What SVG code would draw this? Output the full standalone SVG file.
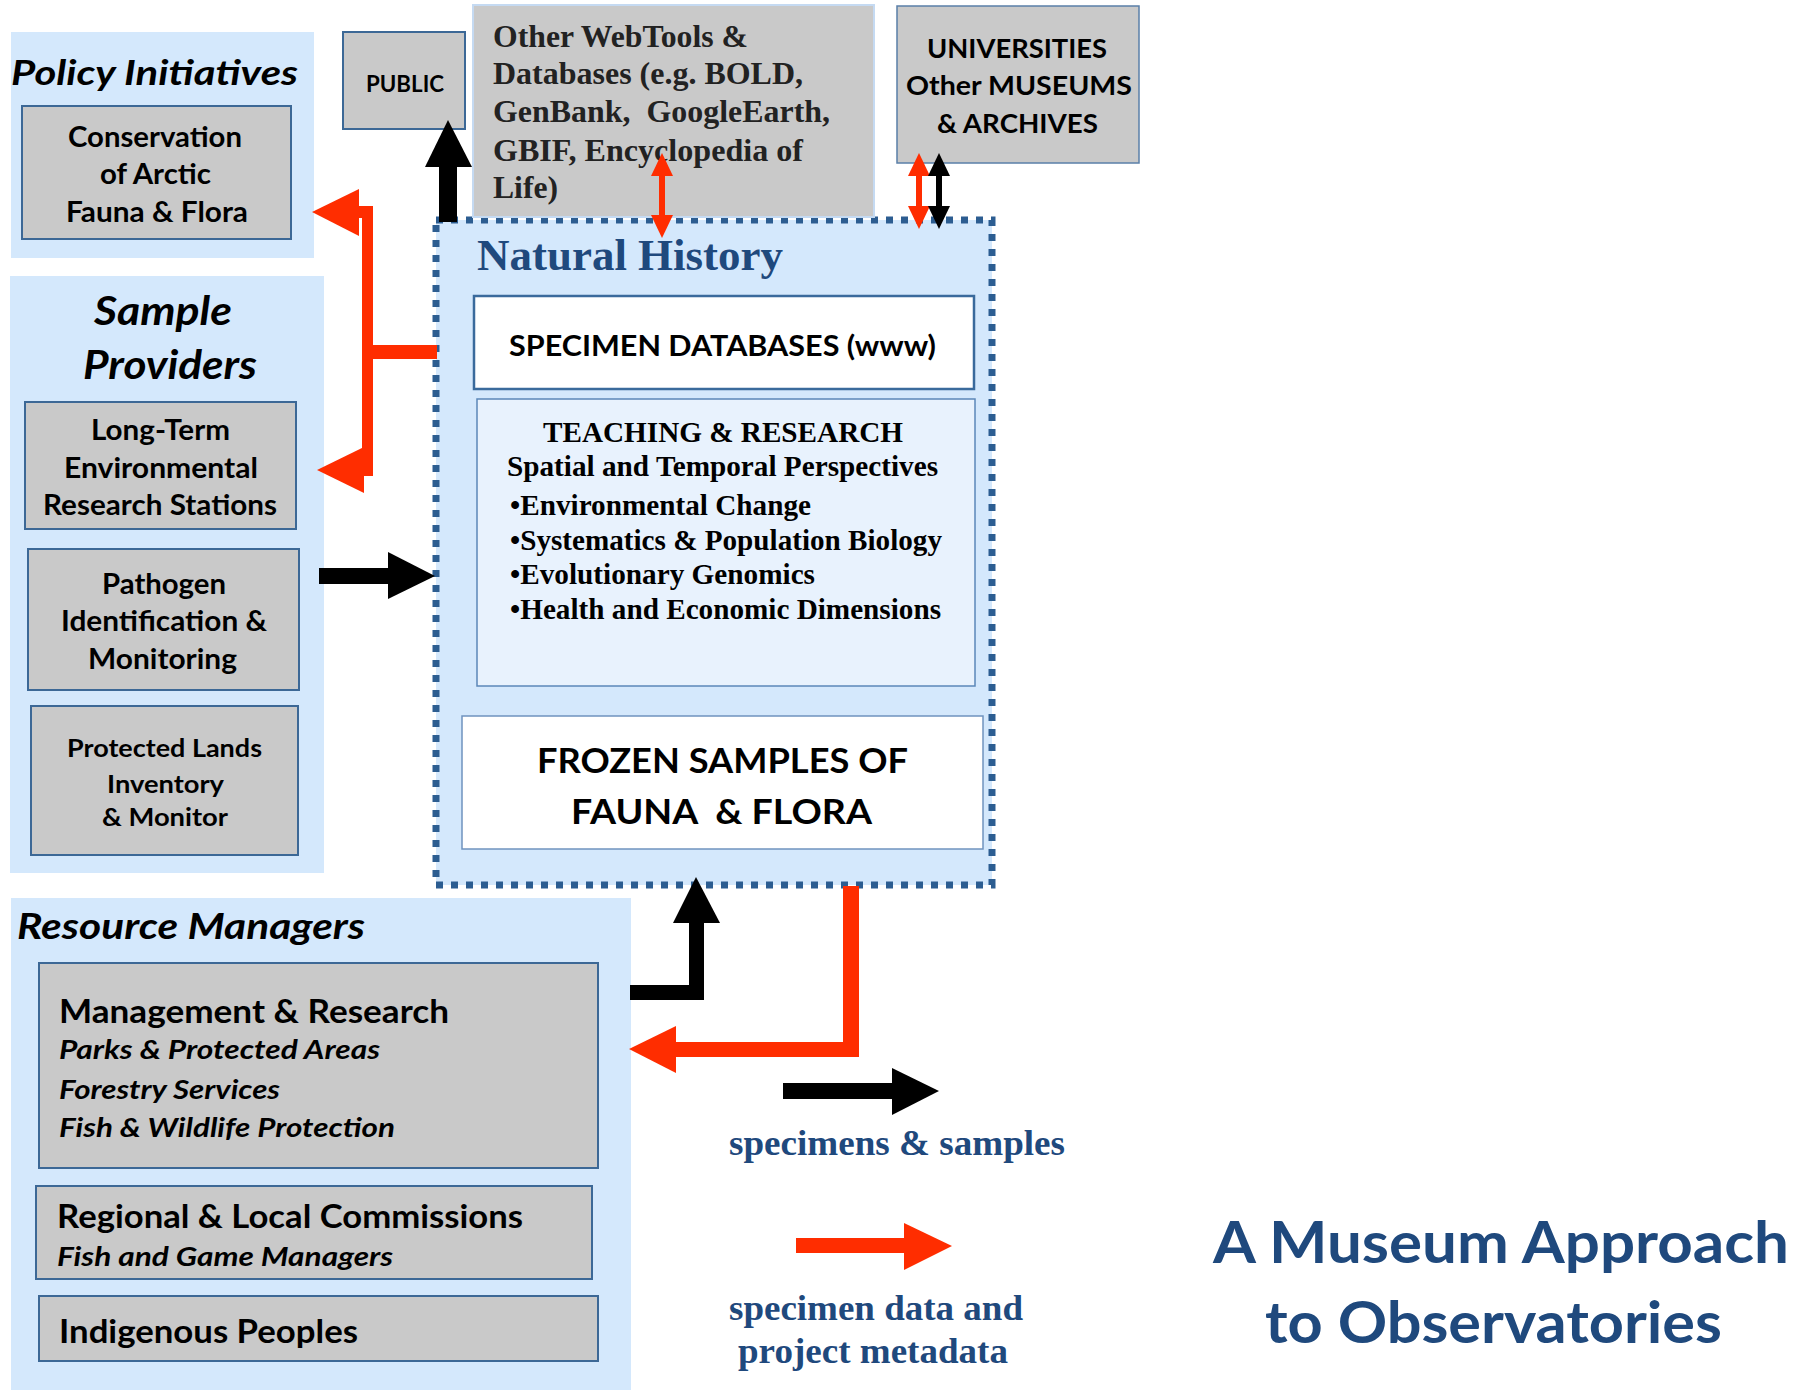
<svg xmlns="http://www.w3.org/2000/svg" width="1800" height="1390" viewBox="0 0 1800 1390">
  <defs>
    <style>
      .panel { fill: #D4E8FC; }
      .gbox { fill: #C9C9C9; stroke: #3C6896; stroke-width: 2; }
      .sans { font-family: Lato, "Open Sans", "Liberation Sans", sans-serif; font-weight: bold; fill: #000; }
      .ital { font-style: italic; }
      .serif { font-family: "Liberation Serif", "Times New Roman", serif; font-weight: bold; }
      .navy { fill: #1F497D; }
      .red { fill: #FF2D00; }
      .blk { fill: #000; }
    </style>
  </defs>

  <rect width="1800" height="1390" fill="#FFFFFF"/>

  <!-- Natural History collection (central container) -->
  <g id="natural-history">
    <rect x="436" y="220" width="556" height="665" fill="#D4E8FC" stroke="#2C5D91" stroke-width="7" stroke-dasharray="7 8"/>
    <text class="serif navy" x="477" y="270" font-size="44" textLength="306" lengthAdjust="spacingAndGlyphs">Natural History</text>
  </g>

  <g id="specimen-databases">
    <rect x="474" y="296" width="500" height="93" fill="#FFFFFF" stroke="#3A6A9C" stroke-width="2.5"/>
    <text class="sans" x="509" y="356" font-size="29" textLength="427" lengthAdjust="spacingAndGlyphs">SPECIMEN DATABASES (www)</text>
  </g>

  <g id="teaching-research">
    <rect x="477" y="399" width="498" height="287" fill="#E8F2FD" stroke="#5B87B8" stroke-width="1.5"/>
    <g class="serif" font-size="29" fill="#000">
      <text x="543" y="442" font-size="30" textLength="360" lengthAdjust="spacingAndGlyphs">TEACHING &amp; RESEARCH</text>
      <text x="507" y="476" textLength="431" lengthAdjust="spacingAndGlyphs">Spatial and Temporal Perspectives</text>
      <text x="510" y="515" textLength="301" lengthAdjust="spacingAndGlyphs">•Environmental Change</text>
      <text x="510" y="550" textLength="432" lengthAdjust="spacingAndGlyphs">•Systematics &amp; Population Biology</text>
      <text x="510" y="584" textLength="305" lengthAdjust="spacingAndGlyphs">•Evolutionary Genomics</text>
      <text x="510" y="619" textLength="431" lengthAdjust="spacingAndGlyphs">•Health and Economic Dimensions</text>
    </g>
  </g>

  <g id="frozen-samples">
    <rect x="462" y="716" width="521" height="133" fill="#FFFFFF" stroke="#6F93BE" stroke-width="1.5"/>
    <text class="sans" x="537" y="773" font-size="34" textLength="371" lengthAdjust="spacingAndGlyphs">FROZEN SAMPLES OF</text>
    <text class="sans" x="571" y="824" font-size="34" textLength="301" lengthAdjust="spacingAndGlyphs" xml:space="preserve">FAUNA  &amp; FLORA</text>
  </g>

  <!-- Outside partners along the top -->
  <g id="webtools">
    <rect x="473" y="5" width="401" height="212" fill="#C9C9C9" stroke="#C5DAF2" stroke-width="2"/>
    <g class="serif" font-size="31" fill="#222222">
      <text x="493" y="47" textLength="255" lengthAdjust="spacingAndGlyphs">Other WebTools &amp;</text>
      <text x="493" y="84" textLength="310" lengthAdjust="spacingAndGlyphs">Databases (e.g. BOLD,</text>
      <text x="493" y="122" textLength="337" lengthAdjust="spacingAndGlyphs" xml:space="preserve">GenBank,  GoogleEarth,</text>
      <text x="493" y="161" textLength="310" lengthAdjust="spacingAndGlyphs">GBIF, Encyclopedia of</text>
      <text x="493" y="198" textLength="65" lengthAdjust="spacingAndGlyphs">Life)</text>
    </g>
  </g>

  <g id="public">
    <rect class="gbox" x="343" y="32" width="122" height="97"/>
    <text class="sans" x="366" y="92" font-size="22" textLength="78" lengthAdjust="spacingAndGlyphs">PUBLIC</text>
  </g>

  <g id="universities">
    <rect x="897" y="6" width="242" height="157" fill="#C9C9C9" stroke="#5A7FA8" stroke-width="1.5"/>
    <text class="sans" x="927" y="58" font-size="27" textLength="180" lengthAdjust="spacingAndGlyphs">UNIVERSITIES</text>
    <text class="sans" x="906" y="95" font-size="27" textLength="226" lengthAdjust="spacingAndGlyphs">Other MUSEUMS</text>
    <text class="sans" x="937" y="133" font-size="27" textLength="161" lengthAdjust="spacingAndGlyphs">&amp; ARCHIVES</text>
  </g>

  <!-- Policy Initiatives -->
  <g id="policy-initiatives">
    <rect class="panel" x="11" y="32" width="303" height="226"/>
    <text class="sans ital" x="11" y="85" font-size="34" textLength="287" lengthAdjust="spacingAndGlyphs">Policy Initiatives</text>
  </g>
  <g id="caff">
    <rect class="gbox" x="22" y="106" width="269" height="133"/>
    <text class="sans" x="68" y="147" font-size="28" textLength="174" lengthAdjust="spacingAndGlyphs">Conservation</text>
    <text class="sans" x="100" y="184" font-size="28" textLength="111" lengthAdjust="spacingAndGlyphs">of Arctic</text>
    <text class="sans" x="66" y="222" font-size="28" textLength="182" lengthAdjust="spacingAndGlyphs">Fauna &amp; Flora</text>
  </g>

  <!-- Sample Providers -->
  <g id="sample-providers">
    <rect class="panel" x="10" y="276" width="314" height="597"/>
    <text class="sans ital" x="94" y="325" font-size="41" textLength="138" lengthAdjust="spacingAndGlyphs">Sample</text>
    <text class="sans ital" x="83" y="379" font-size="41" textLength="174" lengthAdjust="spacingAndGlyphs">Providers</text>
  </g>
  <g id="lter">
    <rect class="gbox" x="25" y="402" width="271" height="127"/>
    <text class="sans" x="91" y="440" font-size="28" textLength="139" lengthAdjust="spacingAndGlyphs">Long-Term</text>
    <text class="sans" x="64" y="478" font-size="28" textLength="194" lengthAdjust="spacingAndGlyphs">Environmental</text>
    <text class="sans" x="43" y="515" font-size="28" textLength="234" lengthAdjust="spacingAndGlyphs">Research Stations</text>
  </g>
  <g id="pathogen">
    <rect class="gbox" x="28" y="549" width="271" height="141"/>
    <text class="sans" x="102" y="594" font-size="28" textLength="124" lengthAdjust="spacingAndGlyphs">Pathogen</text>
    <text class="sans" x="61" y="631" font-size="28" textLength="206" lengthAdjust="spacingAndGlyphs">Identification &amp;</text>
    <text class="sans" x="88" y="669" font-size="28" textLength="149" lengthAdjust="spacingAndGlyphs">Monitoring</text>
  </g>
  <g id="protected-lands">
    <rect class="gbox" x="31" y="706" width="267" height="149"/>
    <text class="sans" x="67" y="757" font-size="25" textLength="195" lengthAdjust="spacingAndGlyphs">Protected Lands</text>
    <text class="sans" x="107" y="793" font-size="25" textLength="117" lengthAdjust="spacingAndGlyphs">Inventory</text>
    <text class="sans" x="102" y="826" font-size="25" textLength="126" lengthAdjust="spacingAndGlyphs">&amp; Monitor</text>
  </g>

  <!-- Resource Managers -->
  <g id="resource-managers">
    <rect class="panel" x="11" y="898" width="620" height="492"/>
    <text class="sans ital" x="17" y="939" font-size="36" textLength="348" lengthAdjust="spacingAndGlyphs">Resource Managers</text>
  </g>
  <g id="management-research">
    <rect class="gbox" x="39" y="963" width="559" height="205"/>
    <text class="sans" x="59" y="1023" font-size="32" textLength="390" lengthAdjust="spacingAndGlyphs">Management &amp; Research</text>
    <text class="sans ital" x="59" y="1059" font-size="27" textLength="321" lengthAdjust="spacingAndGlyphs">Parks &amp; Protected Areas</text>
    <text class="sans ital" x="59" y="1099" font-size="27" textLength="221" lengthAdjust="spacingAndGlyphs">Forestry Services</text>
    <text class="sans ital" x="59" y="1137" font-size="27" textLength="336" lengthAdjust="spacingAndGlyphs">Fish &amp; Wildlife Protection</text>
  </g>
  <g id="regional-commissions">
    <rect class="gbox" x="36" y="1186" width="556" height="93"/>
    <text class="sans" x="57" y="1228" font-size="32" textLength="466" lengthAdjust="spacingAndGlyphs">Regional &amp; Local Commissions</text>
    <text class="sans ital" x="57" y="1266" font-size="27" textLength="336" lengthAdjust="spacingAndGlyphs">Fish and Game Managers</text>
  </g>
  <g id="indigenous-peoples">
    <rect class="gbox" x="39" y="1296" width="559" height="65"/>
    <text class="sans" x="59" y="1343" font-size="32" textLength="299" lengthAdjust="spacingAndGlyphs">Indigenous Peoples</text>
  </g>

  <!-- Flows: black = specimens & samples, red = data & metadata -->
  <g id="connectors">
    <!-- collection data out to policy and research stations -->
    <g class="red">
      <rect x="362" y="207" width="11" height="268"/>
      <rect x="367" y="345" width="70" height="14"/>
      <rect x="355" y="206" width="18" height="12"/>
      <polygon points="312,212 359,189 359,236"/>
      <rect x="360" y="463" width="13" height="13"/>
      <polygon points="317,470 364,447 364,493"/>
    </g>
    <!-- pathogen samples into the collection -->
    <g class="blk">
      <rect x="319" y="568" width="71" height="16"/>
      <polygon points="388,552 435,576 388,599"/>
    </g>
    <!-- collection to public -->
    <g class="blk">
      <rect x="439" y="165" width="18" height="57"/>
      <polygon points="425,167 448,120 472,167"/>
    </g>
    <!-- web tools exchange -->
    <g class="red">
      <rect x="659" y="172" width="6" height="46"/>
      <polygon points="662,153 651,176 673,176"/>
      <polygon points="662,238 651,215 673,215"/>
    </g>
    <!-- universities and museums exchange -->
    <g class="red">
      <rect x="916" y="172" width="6" height="38"/>
      <polygon points="919,153 908,176 930,176"/>
      <polygon points="919,229 908,206 930,206"/>
    </g>
    <g class="blk">
      <rect x="936" y="172" width="6" height="38"/>
      <polygon points="939,153 928,176 950,176"/>
      <polygon points="939,229 928,206 950,206"/>
    </g>
    <!-- resource managers send specimens up -->
    <g class="blk">
      <rect x="630" y="985" width="74" height="15"/>
      <rect x="689" y="921" width="15" height="79"/>
      <polygon points="673,923 696,877 720,923"/>
    </g>
    <!-- data back to resource managers -->
    <g class="red">
      <rect x="843" y="886" width="16" height="171"/>
      <rect x="674" y="1042" width="185" height="15"/>
      <polygon points="629,1049 676,1026 676,1073"/>
    </g>
  </g>

  <!-- Legend -->
  <g id="legend">
    <rect class="blk" x="783" y="1083" width="111" height="16"/>
    <polygon class="blk" points="892,1068 939,1091 892,1115"/>
    <text class="serif navy" x="729" y="1155" font-size="36" textLength="336" lengthAdjust="spacingAndGlyphs">specimens &amp; samples</text>
    <rect class="red" x="796" y="1238" width="110" height="15"/>
    <polygon class="red" points="904,1223 952,1246 904,1270"/>
    <text class="serif navy" x="729" y="1320" font-size="36" textLength="294" lengthAdjust="spacingAndGlyphs">specimen data and</text>
    <text class="serif navy" x="738" y="1363" font-size="36" textLength="270" lengthAdjust="spacingAndGlyphs">project metadata</text>
  </g>

  <!-- Title -->
  <g id="title">
    <text class="sans navy" x="1213" y="1263" font-size="58" textLength="576" lengthAdjust="spacingAndGlyphs">A Museum Approach</text>
    <text class="sans navy" x="1265" y="1343" font-size="58" textLength="457" lengthAdjust="spacingAndGlyphs">to Observatories</text>
  </g>
</svg>
